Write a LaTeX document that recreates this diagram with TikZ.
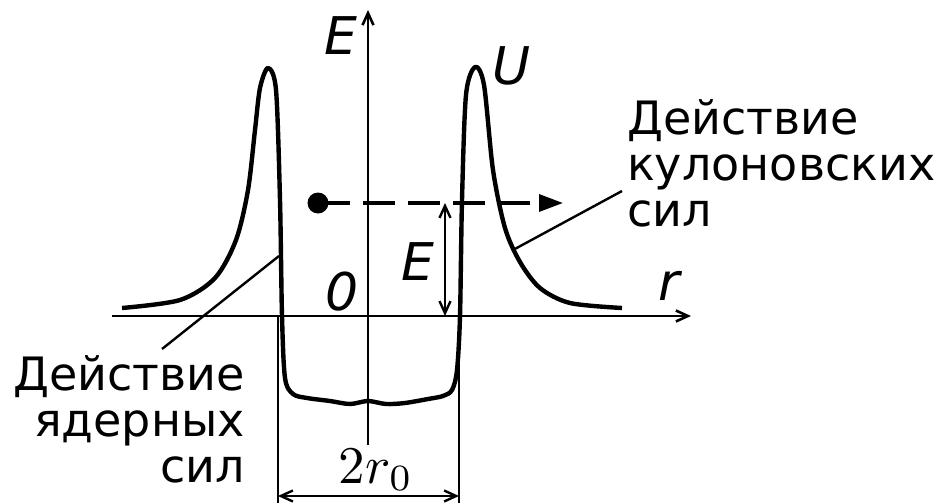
\documentclass[tikz,border=0pt]{standalone}
\usepackage{fontspec}
\setmainfont{DejaVu Sans}
\usetikzlibrary{arrows.meta, positioning, calc}

\begin{document}
\begin{tikzpicture}[x=1pt, y=-1pt,
  axis/.style={line width=2.6pt, -{Straight Barb[length=12pt,width=11pt]}},
  dimline/.style={line width=2.4pt, {Straight Barb[length=12pt,width=11pt]}-{Straight Barb[length=12pt,width=11pt]}},
  pot/.style={line width=4.4pt, line join=round},
  lead/.style={line width=2.4pt},
  flight/.style={line width=3.4pt, dash pattern=on 32pt off 13pt, -{Triangle[length=24pt,width=17pt]}},
  lbl/.style={font=\fontsize{46}{46}\selectfont, inner sep=0pt},
  var/.style={font=\fontsize{52}{52}\selectfont\itshape, inner sep=0pt}
]
  \useasboundingbox (0,0) rectangle (945,503);

  % axes
  \coordinate (xs) at (112,316);
  \coordinate (xe) at (691,316);
  \coordinate (ys) at (368,445);
  \coordinate (ye) at (368,10);
  \draw[axis] (xs) -- (xe);
  \draw[axis] (ys) -- (ye);

  % potential U(r)
  \draw[pot] plot[smooth, tension=0.5] coordinates {
    (122,308) (180,300) (215,278) (236,240) (248,190) (255,130)
    (260,88) (268,68) (276,90) (280,200) (282,316) (285,378) (293,394)
    (307,398) (330,401) (350,404) (368,401) (386,404) (405,403)
    (428,399) (443,396) (452,390) (457,370) (460,316) (462,200) (466,95)
    (475,67) (484,85) (493,170) (505,228) (520,262) (540,288) (570,303) (622,308)};

  % particle
  \node[circle, fill, inner sep=0pt, minimum size=21pt] (part) at (318,203) {};
  \coordinate (fend) at (563,203);
  \draw[flight] (part.center) -- (fend);

  % energy E
  \coordinate (eTop) at (445,203);
  \coordinate (eBot) at (445,316);
  \draw[dimline] (eTop) -- (eBot);

  % width 2r0
  \coordinate (wl) at (278,316);
  \coordinate (wr) at (459,316);
  \coordinate (wlb) at (278,503);
  \coordinate (wrb) at (459,503);
  \draw[lead] (wl) -- (wlb);
  \draw[lead] (wr) -- (wrb);
  \draw[dimline] (278,496) -- (459,496);
  \node[scale=5.3, inner sep=0pt, anchor=base] (width) at (376,483) {$2r_0$};

  % labels
  \node[var] (Etop) at (341,36) {E};
  \node[var] (Ulab) at (512,66) {U};
  \node[var] (Emid) at (418,262) {E};
  \node[var] (zero) at (342,292) {0};
  \node[var] (rlab) at (669,286) {r};

  \node[lbl, align=right, anchor=south east] (nuc) at (245,483) {Действие\\ядерных\\сил};
  \node[lbl, align=left, anchor=south west] (coul) at (627,227) {Действие\\кулоновских\\сил};

  % leaders
  \coordinate (nucA) at (279,256);
  \coordinate (nucB) at (162,349);
  \coordinate (coulA) at (513,250);
  \coordinate (coulB) at (622,191);
  \draw[lead] (nucA) -- (nucB);
  \draw[lead] (coulA) -- (coulB);
\end{tikzpicture}
\end{document}
